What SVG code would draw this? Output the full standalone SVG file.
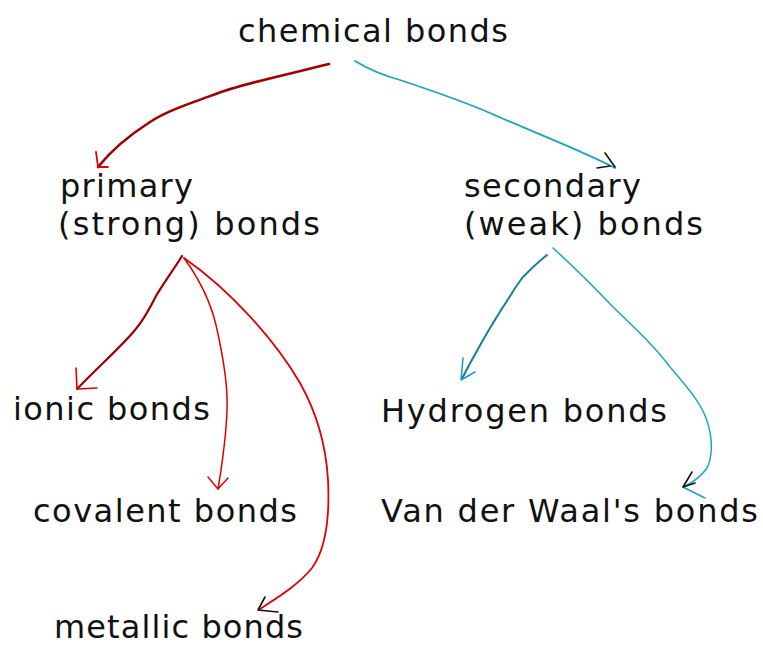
<svg xmlns="http://www.w3.org/2000/svg" width="763" height="645" viewBox="0 0 763 645">
<style>
text{font-family:"DejaVu Sans","Verdana",sans-serif;font-size:32px;fill:#111}
.r{fill:none;stroke:#e00000;stroke-linecap:round;stroke-linejoin:round}
.rd{fill:none;stroke:#a00000;stroke-linecap:round;stroke-linejoin:round}
.b{fill:none;stroke:#18a4c8;stroke-linecap:round;stroke-linejoin:round}
.bd{fill:none;stroke:#137f9c;stroke-linecap:round;stroke-linejoin:round}
.k{fill:none;stroke:#111;stroke-linecap:round;stroke-linejoin:round;stroke-width:1.6}
</style>
<rect width="763" height="645" fill="#fff"/>
<g id="connectors">
<path class="rd" stroke-width="2.6" d="M329,64 C290,74 240,84 213,95 C185,105 165,112 150,122 C125,138 110,152 98,167"/>
<path class="r" stroke-width="1.8" d="M96,152 L98,167 L108,167"/>
<path class="b" stroke-width="1.8" d="M355,61 C370,70 385,76 400,80 C430,90 460,100 490,113 C535,133 580,150 615,168"/>
<path class="k" d="M605,153 L615,167 M597,168 L610,166"/>
<path class="rd" stroke-width="2.2" d="M182,256 C172,272 163,284 156,296 C148,312 142,322 135,330 C122,346 100,365 77,389"/>
<path class="r" stroke-width="1.6" d="M76,368 L77,389 L97,388"/>
<path class="r" stroke-width="1.5" d="M184,258 C200,280 210,300 216,325 C224,360 228,390 227,410 C226,440 222,465 218,489"/>
<path class="r" stroke-width="1.5" d="M208,477 L218,489 L228,478"/>
<path class="r" stroke-width="1.8" d="M184,258 C230,290 275,340 300,383 C318,415 326,445 328,480 C330,520 325,550 312,568 C298,585 280,596 260,609"/>
<path class="k" d="M265,597 L258,610 L278,612"/>
<path class="bd" stroke-width="2" d="M547,255 C538,262 530,270 523,277 C515,287 510,297 503,307 C496,318 490,328 483,340 C476,353 468,366 462,379"/>
<path class="b" stroke-width="1.6" d="M463,358 L461,380 L475,372"/>
<path class="b" stroke-width="1.5" d="M553,248 C575,268 595,288 613,307 C635,328 655,347 670,367 C688,388 700,402 706,418 C714,440 712,458 707,468 C700,478 692,483 683,487 L705,498"/>
<path class="k" d="M692,472 L683,487 L695,483"/>
</g>
<g id="n-chemical"><text x="238" y="42" textLength="270" lengthAdjust="spacing">chemical bonds</text></g>
<g id="n-primary"><text x="60" y="197" textLength="133" lengthAdjust="spacing">primary</text><text x="58" y="235" textLength="262" lengthAdjust="spacing">(strong) bonds</text></g>
<g id="n-secondary"><text x="464" y="197" textLength="177" lengthAdjust="spacing">secondary</text><text x="464" y="235" textLength="239" lengthAdjust="spacing">(weak) bonds</text></g>
<g id="n-ionic"><text x="13" y="420" textLength="197" lengthAdjust="spacing">ionic bonds</text></g>
<g id="n-covalent"><text x="33" y="522" textLength="264" lengthAdjust="spacing">covalent bonds</text></g>
<g id="n-metallic"><text x="54" y="638" textLength="249" lengthAdjust="spacing">metallic bonds</text></g>
<g id="n-hydrogen"><text x="381" y="422" textLength="286" lengthAdjust="spacing">Hydrogen bonds</text></g>
<g id="n-vanderwaals"><text x="381" y="522" textLength="377" lengthAdjust="spacing">Van der Waal's bonds</text></g>
</svg>
